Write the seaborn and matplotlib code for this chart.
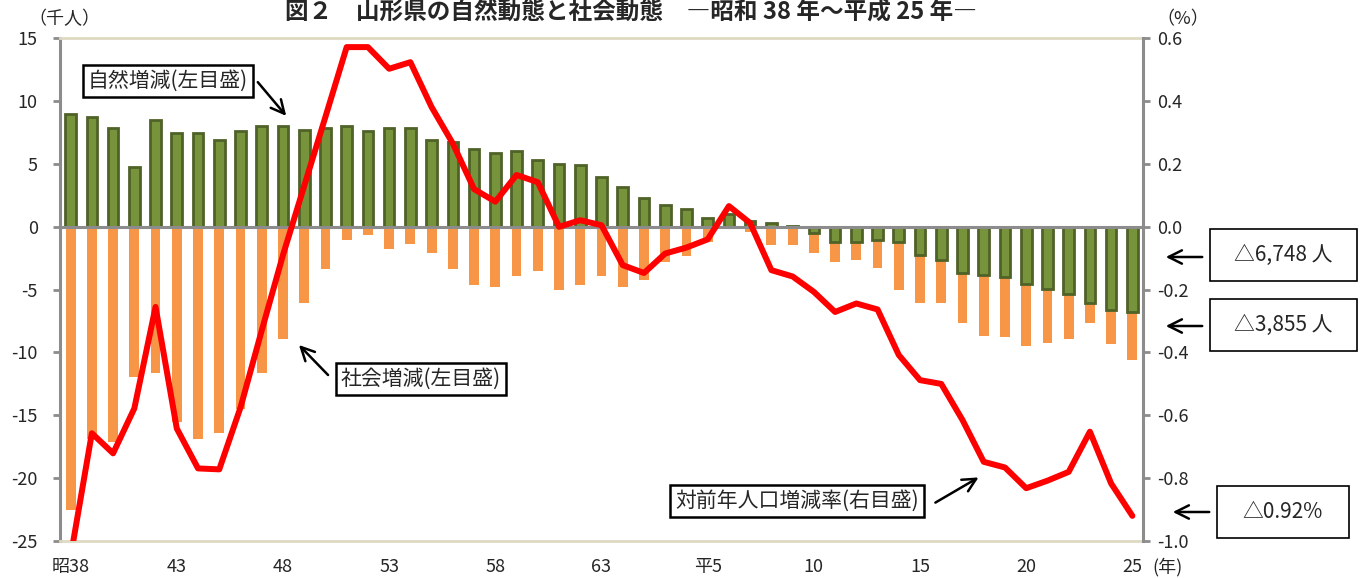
import numpy as np
import pandas as pd
import matplotlib
matplotlib.use("Agg")
import matplotlib.pyplot as plt
from matplotlib.patches import Rectangle
from matplotlib.ticker import FormatStrFormatter
import seaborn as sns

# 昭和38年 .. 平成25年 (51 years), values in 千人 and %
natural = [9.0, 8.74, 7.87, 4.77, 8.48, 7.47, 7.47, 6.89, 7.6, 8.03,
           8.03, 7.74, 7.87, 8.03, 7.6, 7.9, 7.9, 6.89, 6.75, 6.17,
           5.9, 6.04, 5.3, 5.03, 4.88, 4.0, 3.2, 2.3, 1.72, 1.45,
           0.74, 1.0, 0.45, 0.3, 0.05, -0.48, -1.2, -1.22, -1.07, -1.22,
           -2.26, -2.66, -3.66, -3.85, -3.98, -4.56, -4.93, -5.36, -6.1, -6.63,
           -6.748]
social = [-22.5, -16.9, -17.1, -11.94, -11.67, -15.5, -16.9, -16.4, -14.5, -11.67,
          -8.94, -6.1, -3.37, -1.07, -0.62, -1.8, -1.36, -2.07, -3.37, -4.64,
          -4.78, -3.93, -3.5, -5.0, -4.64, -3.9, -4.78, -4.2, -2.79, -2.34,
          -1.2, -0.2, -0.4, -1.46, -1.46, -1.6, -1.6, -1.44, -2.17, -3.82,
          -3.84, -3.44, -3.98, -4.8, -4.82, -4.94, -4.3, -3.6, -1.54, -2.7,
          -3.855]
rate = [-1.05, -0.657, -0.721, -0.578, -0.255, -0.642, -0.769, -0.772, -0.575, -0.33,
        -0.09, 0.13, 0.35, 0.572, 0.572, 0.503, 0.524, 0.381, 0.265, 0.12,
        0.08, 0.165, 0.142, 0.0, 0.021, 0.005, -0.122, -0.147, -0.085, -0.066,
        -0.04, 0.066, 0.012, -0.138, -0.158, -0.207, -0.271, -0.244, -0.263, -0.408,
        -0.488, -0.5, -0.615, -0.748, -0.766, -0.832, -0.808, -0.78, -0.652, -0.817,
        -0.92]
tick_labels = ["昭38", "43", "48", "53", "58", "63", "平5", "10", "15", "20", "25"]
left_ticks = [-25, -20, -15, -10, -5, 0, 5, 10, 15]
right_ticks = [-1.0, -0.8, -0.6, -0.4, -0.2, 0.0, 0.2, 0.4, 0.6]

W, H = 1365, 578


def fx(x):
    return x / W


def fy(y):
    return 1 - y / H


sns.set_style("white")
plt.rcParams['font.family'] = ['Noto Sans CJK JP', 'DejaVu Sans']
plt.rcParams['axes.unicode_minus'] = False

df = pd.DataFrame({'idx': np.arange(len(natural)), 'natural': natural,
                   'social': social, 'rate': rate})
# social bar is stacked below the natural bar when natural is negative
df['social_total'] = df['social'] + df['natural'].clip(upper=0)

gray = '#8C8C8C'
beige = '#DDD9C3'

fig = plt.figure(figsize=(W / 100, H / 100), dpi=100)
ax = fig.add_axes([fx(60), fy(541), fx(1143) - fx(60), fy(38.3) - fy(541)])

sns.barplot(data=df, x='idx', y='social_total', color='#F79646', saturation=1,
            width=0.46, errorbar=None, linewidth=0, ax=ax, zorder=2)
sns.barplot(data=df, x='idx', y='natural', color='#77933C', edgecolor='#4F6228',
            linewidth=2.0, saturation=1, width=0.5, errorbar=None, ax=ax, zorder=2)
ax.axhline(0, color=gray, lw=2.2, zorder=3)

ax2 = ax.twinx()
sns.lineplot(data=df, x='idx', y='rate', color='#FF0000', linewidth=4.3, ax=ax2)

ax.set_xlim(-0.5, len(natural) - 0.5)
ax.set_ylim(-25, 15)
ax2.set_ylim(-1.0, 0.6)
ax.set_xticks(np.arange(0, len(natural), 5))
ax.set_xticklabels(tick_labels)
ax.set_yticks(left_ticks)
ax2.set_yticks(right_ticks)
ax2.yaxis.set_major_formatter(FormatStrFormatter('%.1f'))
for a in (ax, ax2):
    a.set_xlabel('')
    a.set_ylabel('')
    a.grid(False)

for side in ('top', 'bottom'):
    ax.spines[side].set_color(beige)
    ax.spines[side].set_linewidth(2)
    ax2.spines[side].set_visible(False)
ax.spines['left'].set_color(gray)
ax.spines['left'].set_linewidth(2.2)
ax.spines['right'].set_visible(False)
ax2.spines['left'].set_visible(False)
ax2.spines['right'].set_color(gray)
ax2.spines['right'].set_linewidth(2.2)

ax.tick_params(axis='y', direction='out', length=5, width=2, color=gray,
               labelsize=13, pad=11, left=True)
ax.tick_params(axis='x', length=0, labelsize=13, pad=12)
ax2.tick_params(axis='y', direction='out', length=5, width=2, color=gray,
                labelsize=13, pad=5, right=True)

# axis unit labels and title
fig.text(fx(64), fy(19), "（千人）", ha='center', va='center', fontsize=13)
fig.text(fx(1183), fy(19), "（%）", ha='center', va='center', fontsize=13)
fig.text(fx(1168), fy(567), "(年)", ha='center', va='center', fontsize=13)
fig.text(fx(631), fy(13), "図２　山形県の自然動態と社会動態　―昭和 38 年～平成 25 年―",
         ha='center', va='center', fontsize=17, weight='bold')

# boxed labels inside the plot
box = dict(boxstyle='square,pad=0.25', fc='white', ec='black', lw=1.8)
fig.text(fx(168), fy(81), "自然増減(左目盛)", ha='center', va='center', fontsize=15, bbox=box)
fig.text(fx(421), fy(379), "社会増減(左目盛)", ha='center', va='center', fontsize=15, bbox=box)
fig.text(fx(797), fy(501), "対前年人口増減率(右目盛)", ha='center', va='center', fontsize=15, bbox=box)

arrow = dict(arrowstyle='->', lw=1.8, color='black', mutation_scale=24)
for start, end in [((256, 80), (288, 118)),
                   ((330, 377), (297, 343)),
                   ((933, 504), (981, 476)),
                   ((1205, 257), (1163, 257)),
                   ((1205, 326), (1163, 326)),
                   ((1212, 512), (1170, 512))]:
    ax.annotate('', xy=(fx(end[0]), fy(end[1])), xytext=(fx(start[0]), fy(start[1])),
                xycoords='figure fraction', textcoords='figure fraction', arrowprops=arrow)

# result boxes on the right
for (x0, y0, x1, y1), label in [((1210, 229, 1357, 281), "△6,748 人"),
                                ((1210, 299, 1357, 351), "△3,855 人"),
                                ((1217, 486, 1349, 538), "△0.92%")]:
    fig.add_artist(Rectangle((fx(x0), fy(y1)), fx(x1) - fx(x0), fy(y0) - fy(y1),
                             transform=fig.transFigure, fill=False, ec='black', lw=1.2))
    fig.text(fx((x0 + x1) / 2), fy((y0 + y1) / 2), label, ha='center', va='center', fontsize=15)

fig.savefig('out.png', dpi=100)
